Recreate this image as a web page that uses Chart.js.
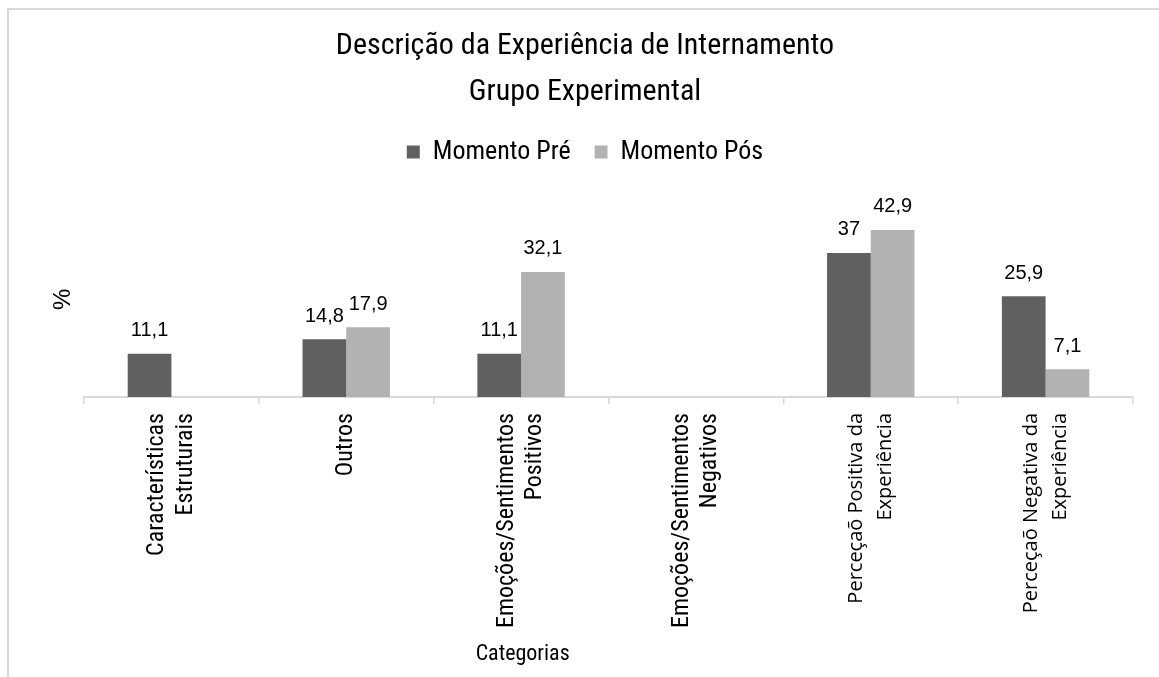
<!DOCTYPE html>
<html>
<head>
<meta charset="utf-8">
<script src="https://cdn.jsdelivr.net/npm/chart.js@4.4.1/dist/chart.umd.min.js"></script>
<style>
  html, body { margin: 0; padding: 0; background: #ffffff; }
  #wrap { position: relative; width: 1159px; height: 677px; }
  #frame { position: absolute; left: 7px; top: 8px; right: 0; bottom: 0;
           border-top: 2px solid #d9d9d9; border-left: 2px solid #d9d9d9; pointer-events: none; }
</style>
</head>
<body>
<div id="wrap">
  <canvas id="c"></canvas>
  <div id="frame"></div>
</div>
<script>
const chartTitle = ["Descrição da Experiência de Internamento", "Grupo Experimental"];
const seriesNames = ["Momento Pré", "Momento Pós"];
const categories = [
  ["Características", "Estruturais"],
  "Outros",
  ["Emoções/Sentimentos", "Positivos"],
  ["Emoções/Sentimentos", "Negativos"],
  ["Perceçaõ Positiva da", "Experiência"],
  ["Perceçaõ Negativa da", "Experiência"]
];
const preValues = [11.1, 14.8, 11.1, null, 37, 25.9];
const posValues = [null, 17.9, 32.1, null, 42.9, 7.1];
const xAxisTitle = "Categorias";
const yAxisTitle = "%";

const NARROW = '"Liberation Sans Narrow", "Arial Narrow", "Roboto Condensed", "Liberation Sans", sans-serif';

const valueLabels = {
  id: 'valueLabels',
  afterDatasetsDraw(chart) {
    const ctx = chart.ctx;
    ctx.save();
    ctx.font = '20px "Liberation Sans", Arial, sans-serif';
    ctx.fillStyle = '#000000';
    ctx.textAlign = 'center';
    ctx.textBaseline = 'middle';
    chart.data.datasets.forEach((ds, i) => {
      const meta = chart.getDatasetMeta(i);
      meta.data.forEach((bar, j) => {
        const v = ds.data[j];
        if (v === null || v === undefined) return;
        ctx.fillText(String(v).replace('.', ','), bar.x, bar.y - 23);
      });
    });
    ctx.restore();
  }
};

const centerTickLines = {
  id: 'centerTickLines',
  beforeDraw(chart) {
    const s = chart.scales.x;
    const items = s.getLabelItems();
    if (items._centered) return;
    items.forEach(it => {
      const n = Array.isArray(it.label) ? it.label.length : 1;
      it.textOffset -= (n - 1) * it.font.lineHeight / 2;
    });
    items._centered = true;
  }
};

new Chart(document.getElementById('c'), {
  type: 'bar',
  data: {
    labels: categories,
    datasets: [
      { label: seriesNames[0], data: preValues, backgroundColor: '#606060', borderWidth: 0 },
      { label: seriesNames[1], data: posValues, backgroundColor: '#b2b2b2', borderWidth: 0 }
    ]
  },
  options: {
    responsive: true,
    maintainAspectRatio: false,
    animation: false,
    layout: { padding: { left: 37, right: 26, top: 0, bottom: 0 } },
    datasets: { bar: { categoryPercentage: 0.5, barPercentage: 1.0 } },
    plugins: {
      tooltip: { enabled: false },
      title: {
        display: true,
        text: chartTitle,
        color: '#000000',
        font: { family: NARROW, size: 30, weight: 'normal', lineHeight: 46 / 30 },
        padding: { top: 23, bottom: 0 }
      },
      legend: {
        display: true,
        position: 'top',
        labels: {
          color: '#000000',
          font: { family: NARROW, size: 26 },
          boxWidth: 13,
          boxHeight: 13,
          padding: 24
        }
      }
    },
    scales: {
      x: {
        offset: true,
        grid: { display: true, offset: true, drawOnChartArea: false, drawTicks: true, tickLength: 7, color: '#d9d9d9', lineWidth: 1.5 },
        border: { display: true, color: '#d9d9d9', width: 2 },
        ticks: {
          autoSkip: false,
          maxRotation: 90,
          minRotation: 90,
          padding: 9,
          color: '#000000',
          font: (c) => (c.index >= 4)
            ? { family: '"Open Sans", "Noto Sans", sans-serif', size: 20, lineHeight: 1.45 }
            : { family: NARROW, size: 24, lineHeight: 1.2 }
        },
        title: {
          display: true,
          text: xAxisTitle + ' '.repeat(34),
          color: '#000000',
          font: { family: NARROW, size: 22 },
          padding: { top: 0, bottom: 9 }
        },
        afterFit: (s) => { s.height = 280; }
      },
      y: {
        min: 0,
        max: 57,
        grid: { display: false },
        border: { display: false },
        ticks: { display: false },
        title: {
          display: true,
          text: yAxisTitle + '    ',
          color: '#000000',
          font: { family: '"Liberation Sans", Arial, sans-serif', size: 24 },
          padding: { top: 12, bottom: 0 }
        },
        afterFit: (s) => { s.width = 47; }
      }
    }
  },
  plugins: [valueLabels, centerTickLines]
});
</script>
</body>
</html>
